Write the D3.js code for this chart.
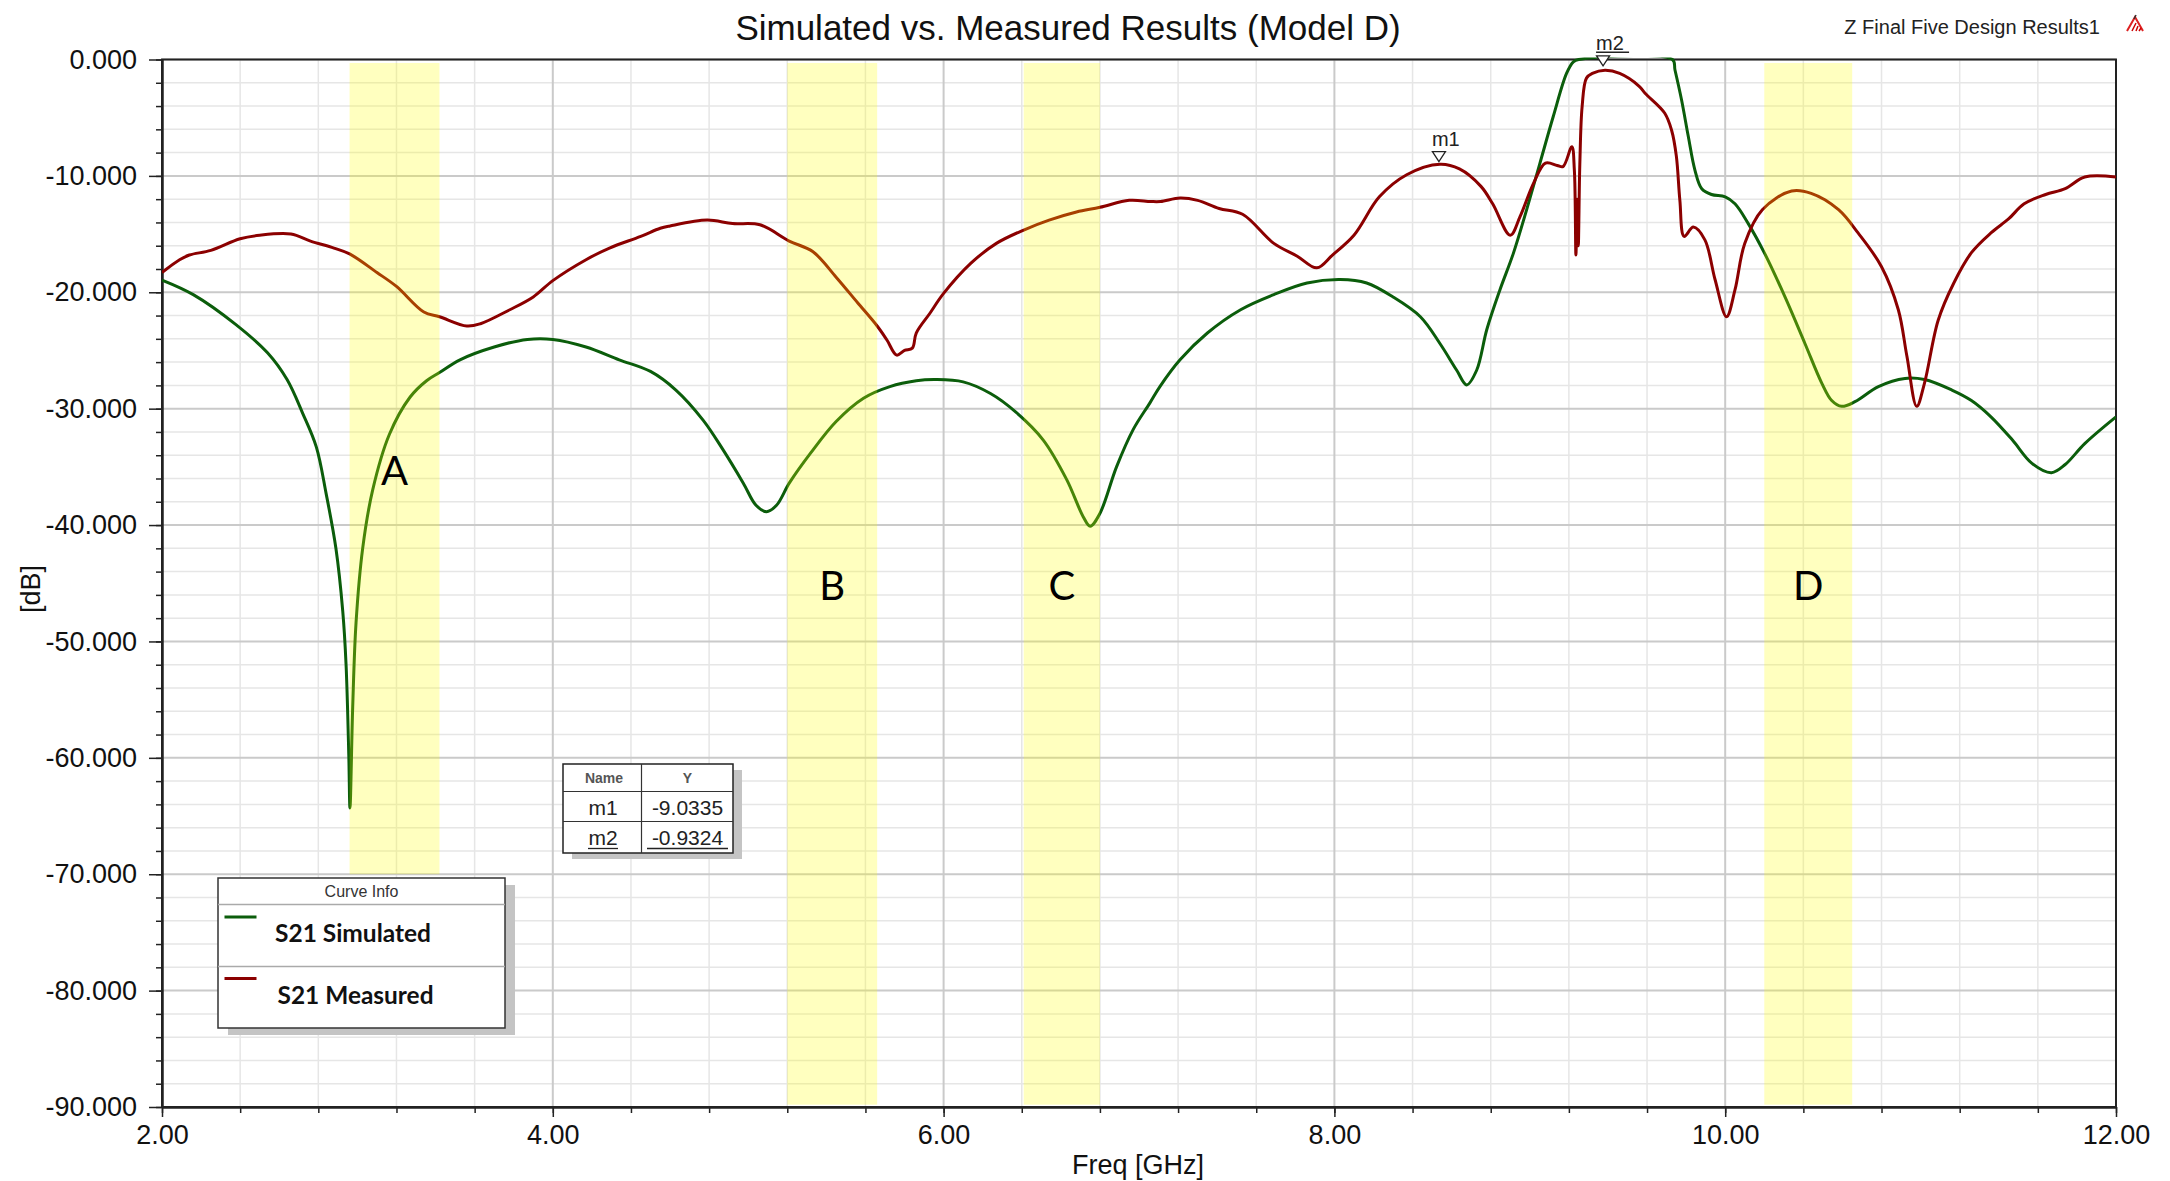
<!DOCTYPE html>
<html>
<head>
<meta charset="utf-8">
<script src="https://cdn.jsdelivr.net/npm/d3@7"></script>
<style>
body { margin: 0; background: #fff; }
text { font-family: "Liberation Sans", Arial, sans-serif; }
</style>
</head>
<body>
<div id="chart-area"></div>
<script>
// ---- data ----
var measFreq = [2.00,2.09,2.14,2.25,2.40,2.50,2.66,2.76,2.88,2.96,3.10,3.20,3.34,3.42,3.56,3.63,3.78,3.90,4.00,4.17,4.29,4.45,4.55,4.60,4.79,4.92,5.06,5.21,5.33,5.45,5.56,5.66,5.71,5.76,5.80,5.84,5.86,5.93,6.00,6.14,6.27,6.41,6.54,6.68,6.80,6.95,7.06,7.11,7.21,7.30,7.41,7.53,7.69,7.81,7.91,7.99,8.10,8.23,8.37,8.54,8.64,8.75,8.81,8.90,8.95,9.02,9.08,9.14,9.17,9.215,9.228,9.236,9.242,9.248,9.256,9.268,9.29,9.32,9.385,9.46,9.56,9.59,9.69,9.726,9.75,9.768,9.79,9.837,9.896,9.948,10.007,10.05,10.10,10.19,10.34,10.44,10.58,10.68,10.80,10.886,10.93,10.98,11.02,11.09,11.17,11.26,11.36,11.45,11.53,11.64,11.74,11.84,12.00];
var measDb = [-18.3,-17.2,-16.8,-16.4,-15.4,-15.1,-15.0,-15.6,-16.2,-16.7,-18.3,-19.5,-21.7,-22.1,-22.9,-22.7,-21.5,-20.4,-19.0,-17.2,-16.2,-15.2,-14.5,-14.3,-13.8,-14.1,-14.2,-15.6,-16.5,-18.7,-20.9,-22.9,-24.1,-25.4,-25.0,-24.8,-23.5,-21.8,-20.1,-17.5,-15.8,-14.65,-13.8,-13.1,-12.7,-12.1,-12.2,-12.2,-11.9,-12.1,-12.8,-13.3,-15.8,-16.9,-17.9,-16.8,-15.1,-11.8,-9.9,-9.0,-9.4,-10.9,-12.4,-15.1,-13.5,-10.6,-8.9,-9.1,-9.2,-7.5,-9.5,-16.8,-12.0,-16.0,-9.0,-4.0,-1.6,-1.2,-0.93,-1.2,-2.3,-2.9,-4.6,-6.1,-8.3,-12.1,-15.2,-14.4,-15.5,-18.9,-22.1,-19.8,-15.8,-12.9,-11.3,-11.5,-12.9,-14.9,-17.8,-21.5,-25.5,-29.8,-27.8,-22.4,-19.2,-16.6,-14.9,-13.7,-12.4,-11.6,-11.1,-10.1,-10.1];

var simFreq = [2.00,2.16,2.38,2.54,2.64,2.72,2.79,2.84,2.89,2.925,2.942,2.956,2.962,2.976,2.993,3.027,3.078,3.164,3.27,3.354,3.42,3.525,3.70,3.87,4.00,4.17,4.34,4.50,4.63,4.77,4.87,4.975,5.04,5.094,5.145,5.21,5.32,5.45,5.59,5.725,5.86,5.96,6.10,6.24,6.37,6.51,6.63,6.715,6.75,6.80,6.885,6.97,7.056,7.107,7.21,7.35,7.52,7.69,7.86,8.03,8.165,8.30,8.44,8.54,8.626,8.677,8.728,8.78,8.847,8.915,8.984,9.052,9.12,9.188,9.223,9.25,9.73,9.743,9.777,9.811,9.845,9.88,9.93,10.00,10.05,10.118,10.203,10.306,10.408,10.494,10.545,10.596,10.664,10.784,10.92,11.02,11.16,11.26,11.36,11.47,11.57,11.67,11.74,11.84,12.00];
var simDb = [-18.95,-20.2,-22.8,-25.2,-27.5,-30.4,-33.3,-37.3,-42.0,-47.4,-52.0,-59.8,-64.3,-55.6,-48.4,-42.0,-37.0,-32.2,-29.0,-27.6,-26.9,-25.8,-24.7,-24.05,-24.05,-24.7,-25.8,-26.8,-28.4,-31.0,-33.5,-36.4,-38.3,-38.85,-38.3,-36.4,-33.8,-31.1,-29.1,-28.1,-27.6,-27.5,-27.7,-28.7,-30.3,-32.7,-36.1,-39.3,-40.1,-39.0,-35.0,-31.8,-29.5,-28.1,-25.8,-23.5,-21.5,-20.2,-19.2,-18.9,-19.2,-20.4,-22.1,-24.4,-26.7,-27.96,-26.7,-23.2,-19.8,-16.7,-12.9,-8.9,-4.9,-1.2,-0.2,0,0,-0.9,-3.5,-6.6,-9.5,-11.1,-11.6,-11.8,-12.4,-14.1,-16.7,-20.4,-24.4,-27.8,-29.3,-29.8,-29.4,-28.1,-27.4,-27.5,-28.4,-29.3,-30.7,-32.7,-34.7,-35.5,-34.8,-33.0,-30.7];

var bandNames = ["A", "B", "C", "D"];
var bandStart = [2.96, 5.20, 6.41, 10.20];
var bandEnd = [3.42, 5.66, 6.80, 10.65];
var bandBottom = [-70, -89.8, -89.8, -89.8];
var bandLabelDb = [-35.3, -45.2, -45.2, -45.2];

var markerNames = ["m1", "m2"];
var markerFreq = [8.535, 9.375];
var markerDb = [-9.0335, -0.9324];

var xTicks = [2, 4, 6, 8, 10, 12];
var yTicks = [0, -10, -20, -30, -40, -50, -60, -70, -80, -90];

var seriesNames = ["S21 Simulated", "S21 Measured"];
var seriesColors = ["#0b5d0b", "#8b0000"];

// ---- layout ----
var W = 2170, H = 1181;
var margin = {top: 59.5, right: 54, bottom: 74, left: 162};
var width = W - margin.left - margin.right;
var height = H - margin.top - margin.bottom;

var svg = d3.select("#chart-area").append("svg")
    .attr("width", W)
    .attr("height", H)

var g = svg.append("g")
    .attr("transform", "translate(" + margin.left + "," + margin.top + ")")

var x = d3.scaleLinear().domain([2, 12]).range([0, width])
var y = d3.scaleLinear().domain([-90, 0]).range([height, 0])

// grid
var xGrid = d3.range(0, 26).map(i => 2 + i * 0.4)
var yGrid = d3.range(0, 46).map(i => -2 * i)

g.append("g").selectAll("line").data(xGrid.filter((d, i) => i % 5 != 0)).enter().append("line")
    .attr("x1", d => x(d)).attr("x2", d => x(d)).attr("y1", 0).attr("y2", height)
    .attr("stroke", "#e6e6e6").attr("stroke-width", 1.5)
g.append("g").selectAll("line").data(yGrid.filter((d, i) => i % 5 != 0)).enter().append("line")
    .attr("y1", d => y(d)).attr("y2", d => y(d)).attr("x1", 0).attr("x2", width)
    .attr("stroke", "#e6e6e6").attr("stroke-width", 1.5)
g.append("g").selectAll("line").data(xTicks).enter().append("line")
    .attr("x1", d => x(d)).attr("x2", d => x(d)).attr("y1", 0).attr("y2", height)
    .attr("stroke", "#cacaca").attr("stroke-width", 2)
g.append("g").selectAll("line").data(yTicks).enter().append("line")
    .attr("y1", d => y(d)).attr("y2", d => y(d)).attr("x1", 0).attr("x2", width)
    .attr("stroke", "#cacaca").attr("stroke-width", 2)

// axes
var yAxisMinor = d3.axisLeft(y).tickValues(yGrid).tickSize(6).tickSizeOuter(0).tickFormat("")
var yAxisCall = d3.axisLeft(y).tickValues(yTicks).tickSize(13).tickSizeOuter(0).tickPadding(12)
    .tickFormat(d => d.toFixed(3))
var xAxisMinor = d3.axisBottom(x).tickValues(xGrid).tickSize(6).tickSizeOuter(0).tickFormat("")
var xAxisCall = d3.axisBottom(x).tickValues(xTicks).tickSize(10).tickSizeOuter(0).tickPadding(8)
    .tickFormat(d => d.toFixed(2))

g.append("g").call(yAxisMinor)
g.append("g").attr("class", "y axis").call(yAxisCall)
g.append("g").attr("transform", "translate(0," + height + ")").call(xAxisMinor)
g.append("g").attr("class", "x axis").attr("transform", "translate(0," + height + ")").call(xAxisCall)

g.selectAll(".domain").attr("stroke", "#222").attr("stroke-width", 2)
g.selectAll(".tick line").attr("stroke", "#222").attr("stroke-width", 1.5)
g.selectAll(".axis text").attr("font-size", "27px").style("fill", "#111")
    .style("font-family", "'Liberation Sans', Arial, sans-serif")

// frame
g.append("rect").attr("x", 0).attr("y", 0).attr("width", width).attr("height", height)
    .attr("fill", "none").attr("stroke", "#222").attr("stroke-width", 2)

// curves (drawn over the frame, like the original)
svg.append("defs").append("clipPath").attr("id", "plot-clip")
    .append("rect").attr("x", 0).attr("y", -2).attr("width", width).attr("height", height + 2)

var line = d3.line()
    .x(d => x(d[0]))
    .y(d => y(d[1]))
    .curve(d3.curveCatmullRom.alpha(0.5))

var curves = [d3.zip(simFreq, simDb), d3.zip(measFreq, measDb)]

g.append("g").attr("clip-path", "url(#plot-clip)")
    .selectAll("path").data(curves).enter().append("path")
    .attr("d", line)
    .attr("fill", "none")
    .attr("stroke", (d, i) => seriesColors[i])
    .attr("stroke-width", 3)
    .attr("stroke-linejoin", "round")

// highlighted bands (translucent yellow over the curves)
g.append("g").selectAll("rect").data(bandNames).enter().append("rect")
    .attr("x", (d, i) => x(bandStart[i]))
    .attr("width", (d, i) => x(bandEnd[i]) - x(bandStart[i]))
    .attr("y", y(-0.3))
    .attr("height", (d, i) => y(bandBottom[i]) - y(-0.3))
    .attr("fill", "#ffff00")
    .attr("fill-opacity", 0.25)

g.append("g").selectAll("text").data(bandNames).enter().append("text")
    .attr("x", (d, i) => x((bandStart[i] + bandEnd[i]) / 2))
    .attr("y", (d, i) => y(bandLabelDb[i]))
    .attr("dy", "0.36em")
    .attr("text-anchor", "middle")
    .style("font-family", "Lato, 'Open Sans', sans-serif")
    .attr("font-size", "40px")
    .style("fill", "#000")
    .text(d => d)

// titles
svg.append("text")
    .attr("x", 1068).attr("y", 40)
    .attr("text-anchor", "middle")
    .attr("font-size", "35px")
    .style("fill", "#111")
    .text("Simulated vs. Measured Results (Model D)")

svg.append("text")
    .attr("x", 2100).attr("y", 34)
    .attr("text-anchor", "end")
    .attr("font-size", "20px")
    .style("fill", "#222")
    .text("Z Final Five Design Results1")

// small logo
var logo = svg.append("g").attr("transform", "translate(2127,15)")
logo.append("path").attr("d", "M0,16 L8,2 L16,16").attr("fill", "none").attr("stroke", "#d22").attr("stroke-width", 2)
logo.append("path").attr("d", "M5,16 L9,8 M9,16 L11,11 M12,16 L14,13").attr("fill", "none").attr("stroke", "#c00").attr("stroke-width", 1.5)
logo.append("path").attr("d", "M7,4 L9,0").attr("stroke", "#333").attr("stroke-width", 1.5)

// X Label
svg.append("text")
    .attr("x", 1138).attr("y", 1174)
    .attr("text-anchor", "middle")
    .attr("font-size", "27px")
    .style("fill", "#111")
    .text("Freq [GHz]")

// Y Label
svg.append("text")
    .attr("transform", "translate(40,589) rotate(-90)")
    .attr("text-anchor", "middle")
    .attr("font-size", "27px")
    .style("fill", "#111")
    .text("[dB]")

// markers
var mk = g.append("g").selectAll("g").data(markerNames).enter().append("g")
    .attr("transform", (d, i) => "translate(" + x(markerFreq[i]) + "," + (y(markerDb[i]) - (i == 0 ? 3 : 4.5)) + ")")
mk.append("path").attr("d", "M0,0 L-6.5,-10 L6.5,-10 Z")
    .attr("fill", "#fff").attr("stroke", "#222").attr("stroke-width", 1.3)
mk.append("text")
    .attr("x", -7).attr("y", -16)
    .attr("font-size", "20px")
    .style("fill", "#222")
    .text(d => d)
mk.filter((d, i) => i == 1).append("line")
    .attr("x1", -7).attr("x2", 26).attr("y1", -13.5).attr("y2", -13.5)
    .attr("stroke", "#222").attr("stroke-width", 1.5)

// marker table
var tb = svg.append("g").attr("transform", "translate(563,764)")
tb.append("rect").attr("x", 9).attr("y", 6).attr("width", 170).attr("height", 89).attr("fill", "#c4c4c4")
tb.append("rect").attr("x", 0).attr("y", 0).attr("width", 170).attr("height", 89)
    .attr("fill", "#fff").attr("stroke", "#222").attr("stroke-width", 1.5)
tb.append("line").attr("x1", 78.5).attr("x2", 78.5).attr("y1", 0).attr("y2", 89).attr("stroke", "#333").attr("stroke-width", 1.2)
tb.append("line").attr("x1", 0).attr("x2", 170).attr("y1", 27.5).attr("y2", 27.5).attr("stroke", "#333").attr("stroke-width", 1.2)
tb.append("line").attr("x1", 0).attr("x2", 170).attr("y1", 57.5).attr("y2", 57.5).attr("stroke", "#333").attr("stroke-width", 1.2)
tb.append("text").attr("x", 41).attr("y", 19).attr("text-anchor", "middle")
    .attr("font-size", "14px").attr("font-weight", "bold").style("fill", "#555").text("Name")
tb.append("text").attr("x", 124.5).attr("y", 19).attr("text-anchor", "middle")
    .attr("font-size", "14px").attr("font-weight", "bold").style("fill", "#555").text("Y")
var rows = tb.selectAll(".row").data(markerNames).enter().append("g")
    .attr("transform", (d, i) => "translate(0," + (50.5 + 30 * i) + ")")
rows.append("text").attr("x", 40).attr("text-anchor", "middle").attr("font-size", "21px")
    .style("fill", "#222").text(d => d)
rows.append("text").attr("x", 124.5).attr("text-anchor", "middle").attr("font-size", "21px")
    .style("fill", "#222").text((d, i) => markerDb[i].toFixed(4))
rows.filter((d, i) => i == 1).append("line").attr("x1", 25).attr("x2", 55).attr("y1", 4).attr("y2", 4)
    .attr("stroke", "#222").attr("stroke-width", 1.3)
rows.filter((d, i) => i == 1).append("line").attr("x1", 84).attr("x2", 165).attr("y1", 4).attr("y2", 4)
    .attr("stroke", "#222").attr("stroke-width", 1.3)

// legend
var lg = svg.append("g").attr("transform", "translate(218,878)")
lg.append("rect").attr("x", 10).attr("y", 7).attr("width", 287).attr("height", 150).attr("fill", "#c4c4c4")
lg.append("rect").attr("x", 0).attr("y", 0).attr("width", 287).attr("height", 150)
    .attr("fill", "#fff").attr("stroke", "#333").attr("stroke-width", 1.5)
lg.append("text").attr("x", 143.5).attr("y", 18.5).attr("text-anchor", "middle")
    .attr("font-size", "16px").style("fill", "#333").text("Curve Info")
lg.append("line").attr("x1", 0).attr("x2", 287).attr("y1", 26.5).attr("y2", 26.5).attr("stroke", "#aaa").attr("stroke-width", 1.5)
lg.append("line").attr("x1", 0).attr("x2", 287).attr("y1", 88.5).attr("y2", 88.5).attr("stroke", "#aaa").attr("stroke-width", 1.5)
var items = lg.selectAll(".item").data(seriesNames).enter().append("g")
    .attr("transform", (d, i) => "translate(0," + (39 + 61.5 * i) + ")")
items.append("line").attr("x1", 6.5).attr("x2", 38.5).attr("y1", 0).attr("y2", 0)
    .attr("stroke", (d, i) => seriesColors[i]).attr("stroke-width", 3)
items.append("text").attr("x", (d, i) => 57 + 2.5 * i).attr("y", 25)
    .style("font-family", "Lato, 'Open Sans', sans-serif")
    .attr("font-size", "24px").attr("font-weight", "bold").style("fill", "#111")
    .attr("textLength", 156).attr("lengthAdjust", "spacingAndGlyphs")
    .text(d => d)
</script>
</body>
</html>
